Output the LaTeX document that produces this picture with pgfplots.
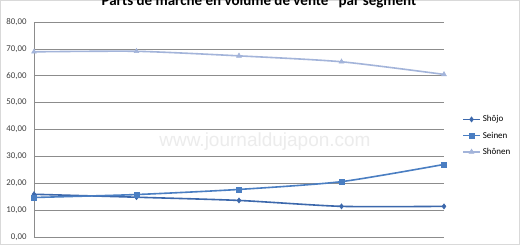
\documentclass[border=0pt]{standalone}
\usepackage{pgfplots}
\pgfplotsset{compat=1.18}
\usepackage{fontspec}
\setmainfont{Carlito}
\newfontfamily\wmfont{Liberation Sans}
\definecolor{cShojo}{HTML}{3C68AC}
\definecolor{cSeinen}{HTML}{4A7EC2}
\definecolor{cShonen}{HTML}{A3B4DA}
\definecolor{cGrid}{HTML}{8C8C8C}
\begin{document}
\begin{tikzpicture}[x=1pt,y=1pt]
\useasboundingbox (0,0) rectangle (520,245);
\clip (0,0) rectangle (520,245);
\fill[white] (0,0) rectangle (520,245);
\draw[gray!30, line width=2pt] (0,0) rectangle (520,245);
\node[font=\bfseries\fontsize{15}{17}\selectfont, anchor=base] at (259,239.5) {Parts de marché en volume de vente \ \ par segment};
\node[text=gray!15, font=\wmfont\fontsize{19}{21}\selectfont, anchor=base] at (265,98) {www.journaldujapon.com};
\begin{axis}[
  at={(34pt,8pt)}, anchor=south west,
  scale only axis, width=410pt, height=215pt,
  xmin=0, xmax=4, ymin=0, ymax=80,
  xtick=\empty,
  ytick={0,10,...,80},
  ymajorgrids, grid style={cGrid, line width=0.6pt},
  axis x line=none,
  axis y line*=left,
  y axis line style={cGrid, line width=0.6pt, -},
  major tick length=0pt,
  yticklabel style={font=\fontsize{8.8}{10}\selectfont, text=black!75, xshift=-4pt},
  /pgf/number format/assume math mode=true,
  yticklabel={\pgfmathprintnumber[fixed, fixed zerofill, precision=2, use comma]{\tick}},
  clip=false,
  legend style={at={(1.044,0.575)}, anchor=north west, draw=none, fill=none,
    font=\fontsize{9}{10}\selectfont, row sep=4.5pt, inner sep=0pt},
  legend cell align=left,
  legend image code/.code={\draw[#1] (0pt,0pt) -- (17pt,0pt); \draw[#1, only marks] plot coordinates {(8.5pt,0pt)};},
]
\addplot[cShojo, line width=1.6pt, smooth, tension=0.4, mark=diamond*, mark size=2.6pt, mark options={solid, line width=0.5pt}]
  coordinates {(0,15.9) (1,14.8) (2,13.6) (3,11.4) (4,11.4)};
\addlegendentry{Shôjo}
\addplot[cSeinen, line width=1.6pt, smooth, tension=0.4, mark=square*, mark size=2.4pt, mark options={solid, line width=0.5pt}]
  coordinates {(0,14.7) (1,15.8) (2,17.7) (3,20.6) (4,27.0)};
\addlegendentry{Seinen}
\addplot[cShonen, line width=1.6pt, smooth, tension=0.4, mark=triangle*, mark size=2.8pt, mark options={solid, line width=0.5pt}]
  coordinates {(0,68.9) (1,69.1) (2,67.4) (3,65.2) (4,60.5)};
\addlegendentry{Shônen}
\end{axis}
\end{tikzpicture}
\end{document}
